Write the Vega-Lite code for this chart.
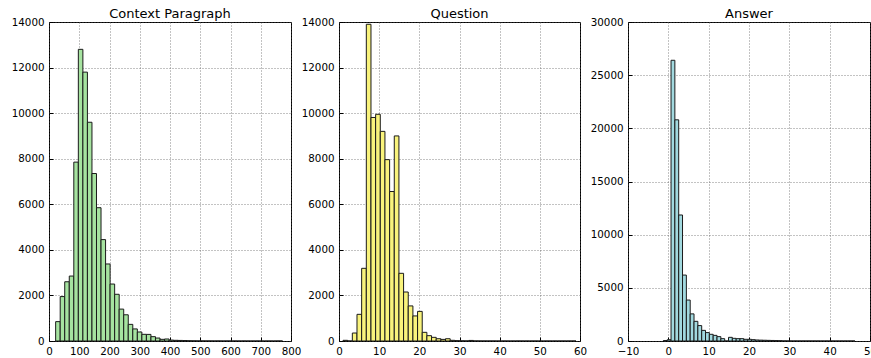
{
  "$schema": "https://vega.github.io/schema/vega-lite/v6.json",
  "padding": {"left": 10, "top": 7, "right": 0, "bottom": 0},
  "background": "white",
  "config": {
    "font": "DejaVu Sans",
    "view": {"stroke": "#000", "strokeWidth": 1},
    "axis": {
      "domain": false,
      "grid": true,
      "gridColor": "#555",
      "gridDash": [1, 2],
      "gridWidth": 0.7,
      "tickColor": "#000",
      "tickSize": -4,
      "labelFlush": false,
      "labelFont": "DejaVu Sans",
      "labelFontSize": 10.3,
      "labelColor": "#000",
      "title": null
    },
    "axisX": {"labelPadding": 9},
    "axisY": {"labelPadding": 9},
    "title": {"font": "DejaVu Sans", "fontSize": 13, "fontWeight": "normal", "color": "#000", "offset": -4}
  },
  "datasets": {
    "context": [
      {"start": 22, "end": 37, "count": 850},
      {"start": 37, "end": 52, "count": 1950},
      {"start": 52, "end": 67, "count": 2600},
      {"start": 67, "end": 82, "count": 2850},
      {"start": 82, "end": 97, "count": 7850},
      {"start": 97, "end": 112, "count": 12800},
      {"start": 112, "end": 127, "count": 11800},
      {"start": 127, "end": 142, "count": 9600},
      {"start": 142, "end": 157, "count": 7350},
      {"start": 157, "end": 172, "count": 5850},
      {"start": 172, "end": 187, "count": 4450},
      {"start": 187, "end": 202, "count": 3380},
      {"start": 202, "end": 217, "count": 2500},
      {"start": 217, "end": 232, "count": 2050},
      {"start": 232, "end": 247, "count": 1400},
      {"start": 247, "end": 262, "count": 1150},
      {"start": 262, "end": 277, "count": 730},
      {"start": 277, "end": 292, "count": 530},
      {"start": 292, "end": 307, "count": 395},
      {"start": 307, "end": 322, "count": 293},
      {"start": 322, "end": 337, "count": 290},
      {"start": 337, "end": 352, "count": 190},
      {"start": 352, "end": 367, "count": 130},
      {"start": 367, "end": 382, "count": 73},
      {"start": 382, "end": 397, "count": 88},
      {"start": 397, "end": 412, "count": 40},
      {"start": 412, "end": 427, "count": 30},
      {"start": 427, "end": 442, "count": 25},
      {"start": 442, "end": 457, "count": 20},
      {"start": 457, "end": 472, "count": 12},
      {"start": 472, "end": 487, "count": 8},
      {"start": 487, "end": 502, "count": 5},
      {"start": 502, "end": 517, "count": 4},
      {"start": 517, "end": 532, "count": 3},
      {"start": 532, "end": 547, "count": 2},
      {"start": 547, "end": 562, "count": 2},
      {"start": 562, "end": 577, "count": 1},
      {"start": 577, "end": 592, "count": 1},
      {"start": 592, "end": 607, "count": 1},
      {"start": 607, "end": 622, "count": 1},
      {"start": 622, "end": 637, "count": 0},
      {"start": 637, "end": 652, "count": 1},
      {"start": 652, "end": 667, "count": 0},
      {"start": 667, "end": 682, "count": 0},
      {"start": 682, "end": 697, "count": 1},
      {"start": 697, "end": 712, "count": 0},
      {"start": 712, "end": 727, "count": 0},
      {"start": 727, "end": 742, "count": 0},
      {"start": 742, "end": 757, "count": 0},
      {"start": 757, "end": 772, "count": 1}
    ],
    "question": [
      {"start": 1.0, "end": 2.16, "count": 30},
      {"start": 2.16, "end": 3.32, "count": 0},
      {"start": 3.32, "end": 4.48, "count": 350},
      {"start": 4.48, "end": 5.64, "count": 1170},
      {"start": 5.64, "end": 6.8, "count": 3190},
      {"start": 6.8, "end": 7.96, "count": 13900},
      {"start": 7.96, "end": 9.12, "count": 9810},
      {"start": 9.12, "end": 10.28, "count": 9950},
      {"start": 10.28, "end": 11.44, "count": 9200},
      {"start": 11.44, "end": 12.6, "count": 7960},
      {"start": 12.6, "end": 13.76, "count": 6560},
      {"start": 13.76, "end": 14.92, "count": 9000},
      {"start": 14.92, "end": 16.08, "count": 2970},
      {"start": 16.08, "end": 17.24, "count": 2150},
      {"start": 17.24, "end": 18.4, "count": 1540},
      {"start": 18.4, "end": 19.56, "count": 1100},
      {"start": 19.56, "end": 20.72, "count": 1300},
      {"start": 20.72, "end": 21.88, "count": 380},
      {"start": 21.88, "end": 23.04, "count": 234},
      {"start": 23.04, "end": 24.2, "count": 161},
      {"start": 24.2, "end": 25.36, "count": 100},
      {"start": 25.36, "end": 26.52, "count": 70},
      {"start": 26.52, "end": 27.68, "count": 100},
      {"start": 27.68, "end": 28.84, "count": 30},
      {"start": 28.84, "end": 30.0, "count": 15},
      {"start": 30.0, "end": 31.16, "count": 8},
      {"start": 31.16, "end": 32.32, "count": 5},
      {"start": 32.32, "end": 33.48, "count": 25},
      {"start": 33.48, "end": 34.64, "count": 3},
      {"start": 34.64, "end": 35.8, "count": 2},
      {"start": 35.8, "end": 36.96, "count": 1},
      {"start": 36.96, "end": 38.12, "count": 1},
      {"start": 38.12, "end": 39.28, "count": 1},
      {"start": 39.28, "end": 40.44, "count": 0},
      {"start": 40.44, "end": 41.6, "count": 1},
      {"start": 41.6, "end": 42.76, "count": 0},
      {"start": 42.76, "end": 43.92, "count": 0},
      {"start": 43.92, "end": 45.08, "count": 1},
      {"start": 45.08, "end": 46.24, "count": 0},
      {"start": 46.24, "end": 47.4, "count": 0},
      {"start": 47.4, "end": 48.56, "count": 0},
      {"start": 48.56, "end": 49.72, "count": 0},
      {"start": 49.72, "end": 50.88, "count": 0},
      {"start": 50.88, "end": 52.04, "count": 0},
      {"start": 52.04, "end": 53.2, "count": 0},
      {"start": 53.2, "end": 54.36, "count": 0},
      {"start": 54.36, "end": 55.52, "count": 0},
      {"start": 55.52, "end": 56.68, "count": 0},
      {"start": 56.68, "end": 57.84, "count": 0},
      {"start": 57.84, "end": 59.0, "count": 1}
    ],
    "answer": [
      {"start": -1.23, "end": -0.28, "count": 40},
      {"start": -0.28, "end": 0.67, "count": 120},
      {"start": 0.67, "end": 1.62, "count": 26400},
      {"start": 1.62, "end": 2.57, "count": 20800},
      {"start": 2.57, "end": 3.52, "count": 11850},
      {"start": 3.52, "end": 4.47, "count": 6200},
      {"start": 4.47, "end": 5.42, "count": 3850},
      {"start": 5.42, "end": 6.37, "count": 2550},
      {"start": 6.37, "end": 7.32, "count": 1850},
      {"start": 7.32, "end": 8.27, "count": 1450},
      {"start": 8.27, "end": 9.22, "count": 1000},
      {"start": 9.22, "end": 10.17, "count": 790},
      {"start": 10.17, "end": 11.12, "count": 630},
      {"start": 11.12, "end": 12.07, "count": 530},
      {"start": 12.07, "end": 13.02, "count": 410},
      {"start": 13.02, "end": 13.97, "count": 220},
      {"start": 13.97, "end": 14.92, "count": 0},
      {"start": 14.92, "end": 15.87, "count": 345},
      {"start": 15.87, "end": 16.82, "count": 250},
      {"start": 16.82, "end": 17.77, "count": 220},
      {"start": 17.77, "end": 18.72, "count": 220},
      {"start": 18.72, "end": 19.67, "count": 160},
      {"start": 19.67, "end": 20.62, "count": 160},
      {"start": 20.62, "end": 21.57, "count": 125},
      {"start": 21.57, "end": 22.52, "count": 95},
      {"start": 22.52, "end": 23.47, "count": 80},
      {"start": 23.47, "end": 24.42, "count": 70},
      {"start": 24.42, "end": 25.37, "count": 60},
      {"start": 25.37, "end": 26.32, "count": 50},
      {"start": 26.32, "end": 27.27, "count": 40},
      {"start": 27.27, "end": 28.22, "count": 30},
      {"start": 28.22, "end": 29.17, "count": 8},
      {"start": 29.17, "end": 30.12, "count": 5},
      {"start": 30.12, "end": 31.07, "count": 4},
      {"start": 31.07, "end": 32.02, "count": 3},
      {"start": 32.02, "end": 32.97, "count": 2},
      {"start": 32.97, "end": 33.92, "count": 2},
      {"start": 33.92, "end": 34.87, "count": 1},
      {"start": 34.87, "end": 35.82, "count": 1},
      {"start": 35.82, "end": 36.77, "count": 1},
      {"start": 36.77, "end": 37.72, "count": 1},
      {"start": 37.72, "end": 38.67, "count": 0},
      {"start": 38.67, "end": 39.62, "count": 1},
      {"start": 39.62, "end": 40.57, "count": 0},
      {"start": 40.57, "end": 41.52, "count": 0},
      {"start": 41.52, "end": 42.47, "count": 0},
      {"start": 42.47, "end": 43.42, "count": 1},
      {"start": 43.42, "end": 44.37, "count": 0},
      {"start": 44.37, "end": 45.32, "count": 0},
      {"start": 45.32, "end": 46.27, "count": 1}
    ]
  },
  "hconcat": [
    {
      "width": 242,
      "height": 319,
      "title": "Context Paragraph",
      "data": {"name": "context"},
      "mark": {"type": "bar", "fill": "#a6e3a0", "stroke": "#1a1a1a", "strokeWidth": 1, "clip": true},
      "encoding": {
        "x": {"field": "start", "type": "quantitative", "scale": {"domain": [0, 800], "nice": false}, "axis": {"values": [0, 100, 200, 300, 400, 500, 600, 700, 800]}},
        "x2": {"field": "end"},
        "y": {"field": "count", "type": "quantitative", "scale": {"domain": [0, 14000], "nice": false}, "axis": {"values": [0, 2000, 4000, 6000, 8000, 10000, 12000, 14000], "format": "d"}},
        "y2": {"datum": 0}
      }
    },
    {
      "width": 241,
      "height": 319,
      "title": "Question",
      "data": {"name": "question"},
      "mark": {"type": "bar", "fill": "#f9f37c", "stroke": "#1a1a1a", "strokeWidth": 1, "clip": true},
      "encoding": {
        "x": {"field": "start", "type": "quantitative", "scale": {"domain": [0, 60], "nice": false}, "axis": {"values": [0, 10, 20, 30, 40, 50, 60]}},
        "x2": {"field": "end"},
        "y": {"field": "count", "type": "quantitative", "scale": {"domain": [0, 14000], "nice": false}, "axis": {"values": [0, 2000, 4000, 6000, 8000, 10000, 12000, 14000], "format": "d"}},
        "y2": {"datum": 0}
      }
    },
    {
      "width": 242,
      "height": 319,
      "title": "Answer",
      "data": {"name": "answer"},
      "mark": {"type": "bar", "fill": "#a2d9df", "stroke": "#1a1a1a", "strokeWidth": 1, "clip": true},
      "encoding": {
        "x": {"field": "start", "type": "quantitative", "scale": {"domain": [-10, 50], "nice": false}, "axis": {"values": [-10, 0, 10, 20, 30, 40, 50]}},
        "x2": {"field": "end"},
        "y": {"field": "count", "type": "quantitative", "scale": {"domain": [0, 30000], "nice": false}, "axis": {"values": [0, 5000, 10000, 15000, 20000, 25000, 30000], "format": "d"}},
        "y2": {"datum": 0}
      }
    }
  ],
  "spacing": 48,
  "bounds": "flush"
}
